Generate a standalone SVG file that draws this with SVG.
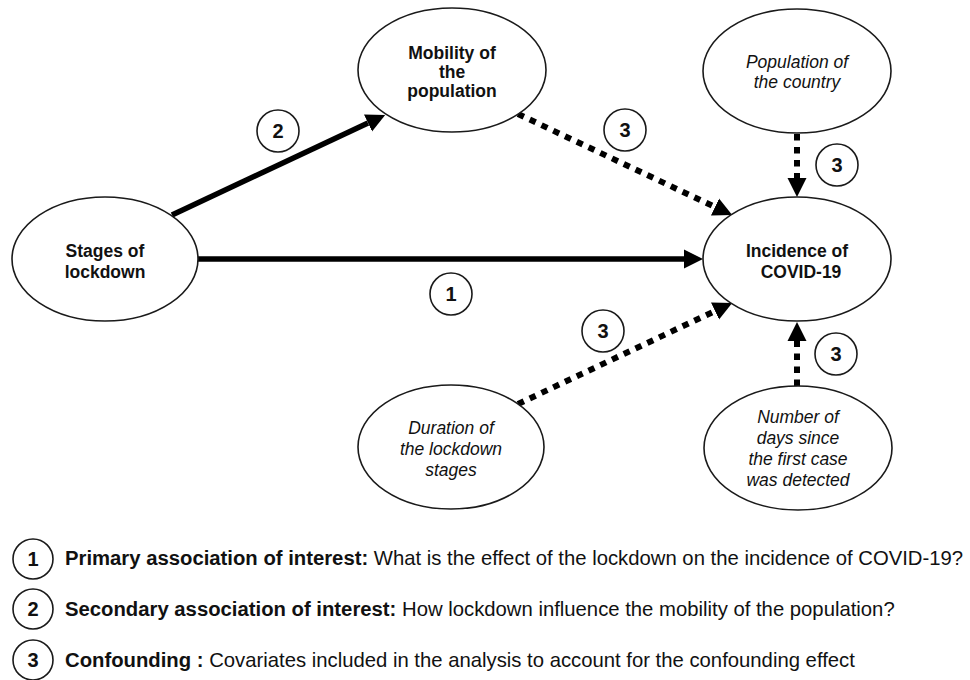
<svg xmlns="http://www.w3.org/2000/svg" width="970" height="680" viewBox="0 0 970 680">
  <style>
    .node ellipse { fill: #ffffff; stroke: #1a1a1a; stroke-width: 1.6; }
    .lbl { font-family: "Liberation Sans", Arial, sans-serif; font-size: 17.5px; fill: #111; text-anchor: middle; }
    .b { font-weight: bold; }
    .i { font-style: italic; }
    .solid { stroke: #000; stroke-width: 5.5; fill: none; }
    .dot { stroke: #000; stroke-width: 6; fill: none; stroke-dasharray: 6.5 6.5; }
    .badge circle { fill: #fff; stroke: #1a1a1a; stroke-width: 1.6; }
    .badge text { font-family: "Liberation Sans", Arial, sans-serif; font-size: 20px; font-weight: bold; fill: #111; text-anchor: middle; }
    .leg { font-family: "Liberation Sans", Arial, sans-serif; font-size: 20.3px; fill: #111; }
  </style>
  <defs>
    <marker id="ah" markerUnits="userSpaceOnUse" markerWidth="22" markerHeight="22" refX="0" refY="0" viewBox="0 -11 22 22" orient="auto">
      <path d="M0,-9.5 L19,0 L0,9.5 z" fill="#000"/>
    </marker>
  </defs>

  <g id="connectors">
    <line id="e1" class="solid" x1="198" y1="259" x2="684" y2="259" marker-end="url(#ah)"/>
    <line id="e2" class="solid" x1="172" y1="215" x2="368" y2="123" marker-end="url(#ah)"/>
    <line id="e3" class="dot" x1="518" y1="114" x2="715" y2="207" marker-end="url(#ah)"/>
    <line id="e4" class="dot" x1="797" y1="134" x2="797" y2="178" marker-end="url(#ah)"/>
    <line id="e5" class="dot" x1="518" y1="404" x2="715" y2="311" marker-end="url(#ah)"/>
    <line id="e6" class="dot" x1="797" y1="386" x2="797" y2="341" marker-end="url(#ah)"/>
  </g>

  <g id="node-mobility" class="node">
    <ellipse cx="452" cy="70" rx="94" ry="62"/>
    <text class="lbl b" x="452" y="59">Mobility of</text>
    <text class="lbl b" x="452" y="78">the</text>
    <text class="lbl b" x="452" y="97">population</text>
  </g>
  <g id="node-population" class="node">
    <ellipse cx="797" cy="71" rx="94" ry="62"/>
    <text class="lbl i" x="797" y="68">Population of</text>
    <text class="lbl i" x="797" y="88">the country</text>
  </g>
  <g id="node-stages" class="node">
    <ellipse cx="105" cy="259" rx="93" ry="62"/>
    <text class="lbl b" x="105" y="257">Stages of</text>
    <text class="lbl b" x="105" y="278">lockdown</text>
  </g>
  <g id="node-incidence" class="node">
    <ellipse cx="797" cy="259" rx="94" ry="62"/>
    <text class="lbl b" x="797" y="257">Incidence of</text>
    <text class="lbl b" x="801" y="278">COVID-19</text>
  </g>
  <g id="node-duration" class="node">
    <ellipse cx="451" cy="447" rx="93" ry="62"/>
    <text class="lbl i" x="451" y="434">Duration of</text>
    <text class="lbl i" x="451" y="455">the lockdown</text>
    <text class="lbl i" x="451" y="476">stages</text>
  </g>
  <g id="node-days" class="node">
    <ellipse cx="798" cy="448" rx="94" ry="62"/>
    <text class="lbl i" x="798" y="423">Number of</text>
    <text class="lbl i" x="798" y="444">days since</text>
    <text class="lbl i" x="798" y="465">the first case</text>
    <text class="lbl i" x="798" y="486">was detected</text>
  </g>

  <g id="edge-labels">
    <g class="badge"><circle cx="278" cy="131" r="21"/><text x="278" y="138">2</text></g>
    <g class="badge"><circle cx="451" cy="294" r="21"/><text x="451" y="301">1</text></g>
    <g class="badge"><circle cx="625" cy="130" r="21"/><text x="625" y="137">3</text></g>
    <g class="badge"><circle cx="837" cy="165" r="21"/><text x="837" y="172">3</text></g>
    <g class="badge"><circle cx="603" cy="331" r="21"/><text x="603" y="338">3</text></g>
    <g class="badge"><circle cx="836" cy="354" r="21"/><text x="836" y="361">3</text></g>
  </g>

  <g id="legend">
    <g class="badge"><circle cx="33" cy="559" r="20"/><text x="33" y="566">1</text></g>
    <text class="leg" x="65" y="565"><tspan font-weight="bold">Primary association of interest:</tspan> What is the effect of the lockdown on the incidence of COVID-19?</text>
    <g class="badge"><circle cx="33" cy="609" r="20"/><text x="33" y="616">2</text></g>
    <text class="leg" x="65" y="616"><tspan font-weight="bold">Secondary association of interest:</tspan> How lockdown influence the mobility of the population?</text>
    <g class="badge"><circle cx="33" cy="660" r="20"/><text x="33" y="667">3</text></g>
    <text class="leg" x="65" y="667"><tspan font-weight="bold">Confounding :</tspan> Covariates included in the analysis to account for the confounding effect</text>
  </g>
</svg>
